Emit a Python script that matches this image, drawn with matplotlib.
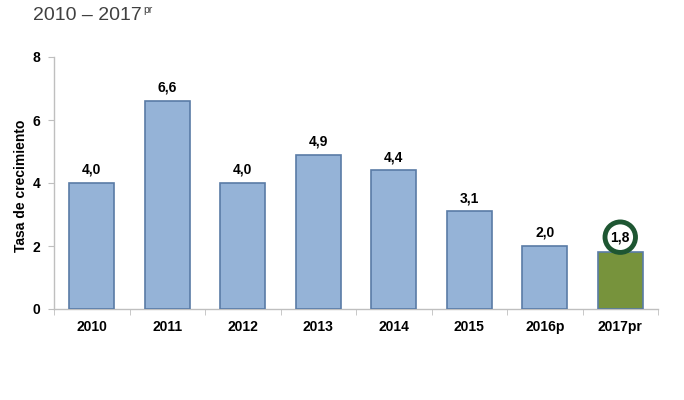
import matplotlib
matplotlib.use("Agg")
import matplotlib.pyplot as plt
import numpy as np

plt.rcParams['font.family'] = ['Liberation Sans', 'DejaVu Sans']

categories = ["2010", "2011", "2012", "2013", "2014", "2015", "2016p", "2017pr"]
values = [4.0, 6.6, 4.0, 4.9, 4.4, 3.1, 2.0, 1.8]
labels = ["4,0", "6,6", "4,0", "4,9", "4,4", "3,1", "2,0", "1,8"]
yticks = [0, 2, 4, 6, 8]

fig = plt.figure(figsize=(6.84, 4.0), dpi=100)
ax = fig.add_axes([54/684, 1-309/400, (658-54)/684, (309-57)/400])

x = np.arange(len(categories))
colors = ["#95B3D7"] * 7 + ["#77933C"]
edges = ["#5A7BA6"] * 8
ax.bar(x, values, width=0.6, color=colors, edgecolor=edges, linewidth=1.2, zorder=3)

for i, (v, l) in enumerate(zip(values, labels)):
    if i == len(values) - 1:
        ax.text(i, v + 0.48, l, ha='center', va='center', fontsize=10, fontweight='bold',
                zorder=5,
                bbox=dict(boxstyle='circle,pad=0.4', fc='white', ec='#1E5632', lw=3.5))
    else:
        ax.text(i, v + 0.2, l, ha='center', va='bottom', fontsize=10, fontweight='bold')

ax.set_xlim(-0.5, len(categories) - 0.5)
ax.set_ylim(0, 8)
ax.set_yticks(yticks)
ax.set_yticklabels([str(t) for t in yticks], fontsize=10, fontweight='bold')
ax.set_xticks(x)
ax.set_xticklabels(categories, fontsize=10, fontweight='bold')
ax.set_xticks(np.arange(-0.5, len(categories), 1), minor=True)
ax.tick_params(axis='x', which='major', length=0, pad=8)
ax.tick_params(axis='x', which='minor', length=4, color='#BFBFBF', direction='out')
ax.tick_params(axis='y', length=4, color='#BFBFBF', direction='out', pad=6)
ax.set_ylabel("Tasa de crecimiento", fontsize=10, fontweight='bold')
ax.yaxis.set_label_coords((28-54)/604, 0.49)

for s in ['top', 'right']:
    ax.spines[s].set_visible(False)
for s in ['left', 'bottom']:
    ax.spines[s].set_color('#BFBFBF')
    ax.spines[s].set_linewidth(1.0)

fig.text(33/684, 1-15/400, "2010 – 2017", fontsize=14, color='#404040',
         ha='left', va='center')
fig.text(143/684, 1-10/400, "pr", fontsize=7.5, color='#404040',
         ha='left', va='center')

fig.savefig("out.png", dpi=100)
